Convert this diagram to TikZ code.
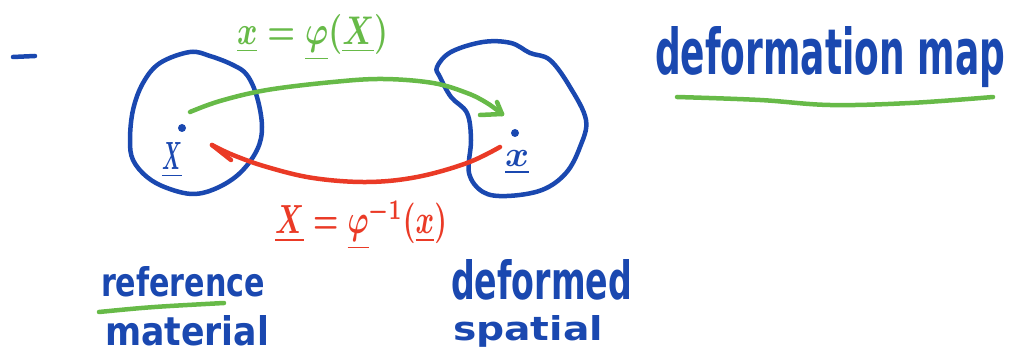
\documentclass[tikz,border=0pt]{standalone}
\usepackage{fontspec}
\setmainfont{DejaVu Sans}
\usepackage{graphicx}
\definecolor{pblue}{RGB}{26,72,176}
\definecolor{pgreen}{RGB}{103,186,72}
\definecolor{pred}{RGB}{234,58,38}
\newcommand{\fitbox}[3]{\resizebox{#1}{#2}{#3}}
\begin{document}
\begin{tikzpicture}[x=1pt,y=-1pt,
  pen/.style={line width=4.5pt,line cap=round,line join=round},
  lbl/.style={inner sep=0pt,outer sep=0pt,anchor=base west,font=\bfseries\boldmath}]
\useasboundingbox (0,0) rectangle (1017,363);
% dash at left
\draw[pen,pblue] (13,57) -- (35,56);
% left blob (reference)
\draw[pen,pblue] plot[smooth cycle,tension=0.6] coordinates {
 (130,140) (133,110) (143,83) (160,63) (190,52) (210,56) (233,65)
 (247,75) (257,97) (262,127) (257,150) (240,173) (217,188) (193,194)
 (167,188) (147,177) (133,160)};
% right blob (deformed)
\draw[pen,pblue] plot[smooth cycle,tension=0.6] coordinates {
 (437,67) (451,52) (483,42) (511,43) (530,53) (550,60) (570,87)
 (586,120) (580,147) (566,173) (542,190) (507,196) (483,192) (469,173)
 (471,140) (467,113) (451,97) (440,77)};
% points
\fill[pblue] (182,128) circle (4);
\fill[pblue] (515,133) circle (4);
\node[lbl,text=pblue] (X) at (162,170) {\fitbox{20pt}{27pt}{$\underline{X}$}};
\node[lbl,text=pblue] (x) at (505,167) {\fitbox{24pt}{16pt}{$\underline{x}$}};
% green arrow
\coordinate (gs) at (190,112);
\coordinate (ge) at (502,114);
\draw[pen,pgreen] plot[smooth,tension=0.6] coordinates {
 (gs) (220,101) (267,90) (333,82) (383,79) (433,83) (467,93) (487,103) (ge)};
\draw[pen,pgreen] (ge) -- (480,115);
\draw[pen,pgreen] (ge) -- (497,102);
% red arrow
\coordinate (rs) at (500,147);
\coordinate (re) at (212,145);
\draw[pen,pred] plot[smooth,tension=0.6] coordinates {
 (rs) (467,163) (417,177) (367,182) (313,178) (267,167) (233,155) (re)};
\draw[pen,pred] (re) -- (231,160);
% map labels
\node[lbl,text=pgreen] (phi) at (237,45)
  {\fitbox{151pt}{30pt}{$\underline{x}=\underline{\varphi}(\underline{X})$}};
\node[lbl,text=pred] (phiinv) at (275,234)
  {\fitbox{172pt}{34pt}{$\underline{X}=\underline{\varphi}^{-1}(\underline{x})$}};
% words
\node[lbl,text=pblue] (defmap) at (655,75) {\fitbox{350pt}{48pt}{deformation map}};
\draw[pen,pgreen] plot[smooth,tension=0.6] coordinates {
 (677,97) (760,100) (830,105) (910,103) (993,97)};
\node[lbl,text=pblue] (ref) at (101,297) {\fitbox{164pt}{30pt}{reference}};
\draw[pen,pgreen] (99,312) .. controls (150,307) .. (224,303);
\node[lbl,text=pblue] (mat) at (105,345) {\fitbox{164pt}{30pt}{material}};
\node[lbl,text=pblue] (dfd) at (451,300) {\fitbox{181pt}{40pt}{deformed}};
\node[lbl,text=pblue] (spa) at (453,340) {\fitbox{150pt}{25pt}{spatial}};
\end{tikzpicture}
\end{document}
